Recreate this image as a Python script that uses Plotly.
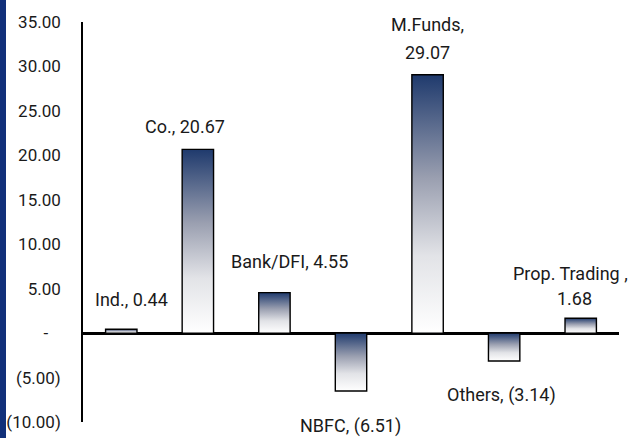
import plotly.graph_objects as go

# ---- data ----
categories = ["Ind.", "Co.", "Bank/DFI", "NBFC", "M.Funds", "Others", "Prop. Trading "]
values = [0.44, 20.67, 4.55, -6.51, 29.07, -3.14, 1.68]
tick_values = [-10, -5, 0, 5, 10, 15, 20, 25, 30, 35]
tick_labels = ["(10.00)", "(5.00)", "-\u00a0\u00a0\u00a0", "5.00", "10.00", "15.00",
               "20.00", "25.00", "30.00", "35.00"]

# ---- label placement (pixel offsets from bar end), styles ----
label_offsets = [  # (xshift, yshift, two_lines, line2_xshift, line2_yshift)
    (10, 30, False, 0, 0),
    (-13, 23, False, 0, 0),
    (15, 31, False, 0, 0),
    (-1, -35, False, 0, 0),
    (0, 50, True, 0, 22),
    (-3, -34, False, 0, 0),
    (-10, 45, True, -6, 20),
]
FONT = "Roboto, Lato, sans-serif"
BAR_W = 0.41
GRAD = [[0, "#ffffff"], [0.3, "#e2e3e7"], [0.6, "#9a9fb0"], [1, "#1f3a6d"]]


def fmt(v):
    return f"({abs(v):.2f})" if v < 0 else f"{v:.2f}"


fig = go.Figure()
xs = list(range(len(categories)))

# one gradient-filled, outlined bar per category
for i, v in zip(xs, values):
    fig.add_trace(go.Scatter(
        x=[i - BAR_W / 2, i - BAR_W / 2, i + BAR_W / 2, i + BAR_W / 2, i - BAR_W / 2],
        y=[0, v, v, 0, 0],
        mode="lines", fill="toself", line=dict(width=1.4, color="#000000"),
        fillgradient=dict(type="vertical", colorscale=GRAD),
        hoverinfo="skip", showlegend=False,
    ))

annotations = []
for i, (cat, v) in enumerate(zip(categories, values)):
    xs_, ys_, two, x2, y2 = label_offsets[i]
    if two:
        annotations.append(dict(x=i, y=v, xref="x", yref="y", text=cat + ",",
                                showarrow=False, xshift=xs_, yshift=ys_,
                                xanchor="center", yanchor="middle"))
        annotations.append(dict(x=i, y=v, xref="x", yref="y", text=fmt(v),
                                showarrow=False, xshift=x2, yshift=y2,
                                xanchor="center", yanchor="middle"))
    else:
        annotations.append(dict(x=i, y=v, xref="x", yref="y", text=f"{cat}, {fmt(v)}",
                                showarrow=False, xshift=xs_, yshift=ys_,
                                xanchor="center", yanchor="middle"))

fig.update_layout(
    width=635, height=438,
    margin=dict(l=83, r=16, t=22, b=16),
    paper_bgcolor="white", plot_bgcolor="white",
    font=dict(family=FONT, size=18, color="#1a1a1a"),
    annotations=annotations,
    shapes=[dict(type="rect", xref="paper", yref="paper",
                 x0=-83 / 536, x1=-77 / 536, y0=-0.1, y1=1.1,
                 fillcolor="#11307a", line=dict(width=0), layer="above")],
    xaxis=dict(range=[-0.5, len(categories) - 0.5], showticklabels=False,
               showgrid=False, zeroline=False, showline=False, ticks="",
               automargin=False),
    yaxis=dict(range=[-10, 35], tickvals=tick_values, ticktext=tick_labels,
               showgrid=False, ticks="", showline=True, linecolor="#000000",
               linewidth=1.6, zeroline=True, zerolinecolor="#000000",
               zerolinewidth=2.6, tickfont=dict(family=FONT, size=17, color="#1a1a1a"),
               ticklabelstandoff=17, automargin=False),
)

fig.write_html("out.html", config={"displayModeBar": False},
               post_script="document.body.style.margin='0px';document.body.style.overflow='hidden';")
